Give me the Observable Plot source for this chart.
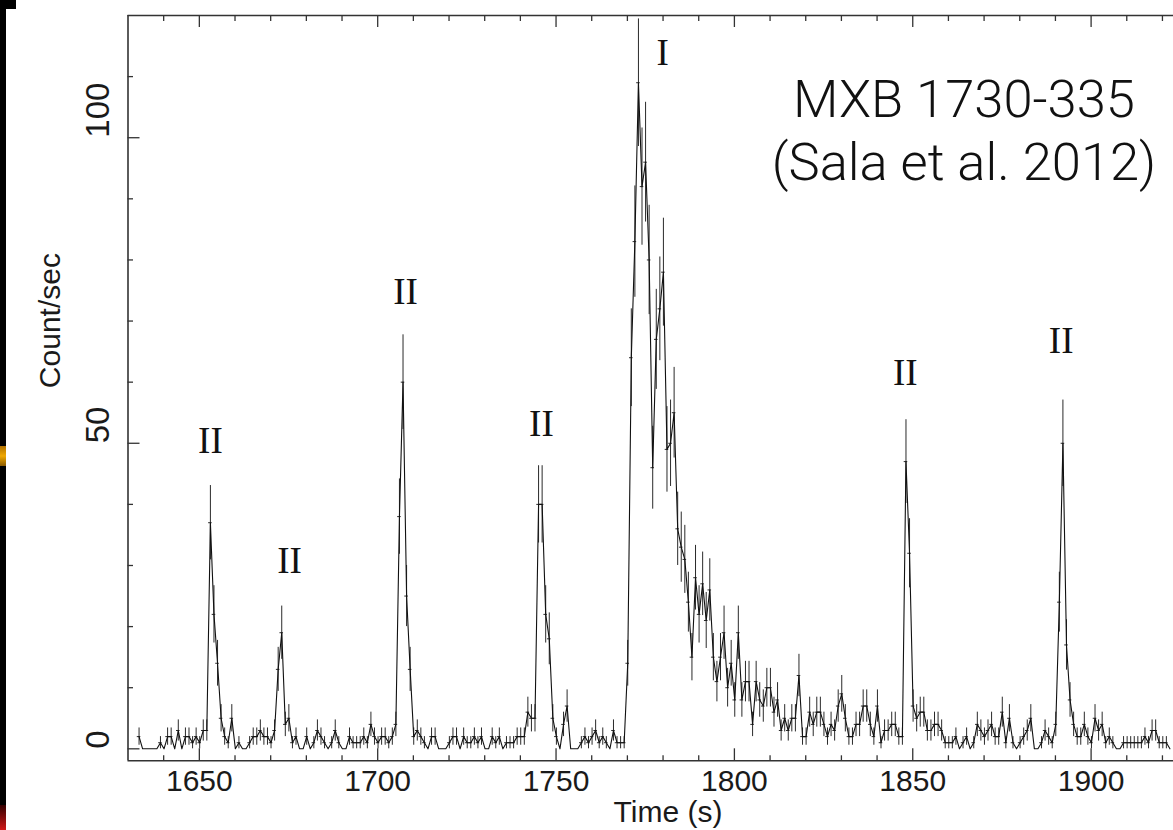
<!DOCTYPE html>
<html><head><meta charset="utf-8">
<script src="https://cdn.jsdelivr.net/npm/d3@7"></script>
<script src="https://cdn.jsdelivr.net/npm/@observablehq/plot@0.6"></script>
<style>
html,body{margin:0;padding:0;background:#fff;overflow:hidden}
#wrap{position:relative;width:1173px;height:830px}
.edge{position:absolute}
</style></head><body><div id="wrap"></div>
<script>
// ---- data (1-s bins, counts per second) ----
const startTime = 1633.1;   // centre of first bin (s)
const binWidth = 1;         // s
const counts = [
  2,0,0,0,0,0,1,0,2,2,
  0,3,0,2,2,1,2,1,3,3,
  37,22,14,5,2,1,5,0,1,0,
  0,1,2,2,3,2,2,1,3,13,
  19,4,5,1,2,0,0,2,0,1,
  3,2,1,0,1,3,1,0,0,2,
  1,1,1,2,1,4,2,1,2,2,
  1,2,4,38,60,25,13,2,3,2,
  1,0,2,2,0,0,0,1,2,2,
  0,2,1,1,2,1,2,0,0,2,
  1,2,0,1,1,1,2,2,2,6,
  5,5,40,40,22,18,5,2,0,4,
  7,0,0,0,1,2,1,2,3,1,
  2,1,0,3,1,1,1,14,64,83,
  109,92,96,80,46,67,72,78,49,50,
  55,36,33,31,24,15,28,22,27,21,
  26,15,11,15,19,10,14,8,19,8,
  11,11,4,11,8,7,10,10,6,8,
  3,5,3,5,5,12,2,2,6,4,
  6,6,4,2,4,3,7,9,5,2,
  2,4,4,7,7,4,2,7,1,3,
  3,4,4,2,2,47,32,7,5,6,
  6,3,3,4,4,3,1,1,1,2,
  0,1,2,0,1,4,3,2,3,4,
  2,2,6,1,5,1,0,1,2,3,
  5,0,0,1,3,2,1,4,24,50,
  17,8,4,2,2,4,2,1,5,3,
  4,1,2,1,0,0,1,1,1,1,
  1,1,2,1,3,3,1,1,1,0
];
const xDomain = [1630, 1923.1];
const yDomain = [-1.96, 120];
const majorX = [1650, 1700, 1750, 1800, 1850, 1900];
const minorX = [1640, 1660, 1670, 1680, 1690, 1710, 1720, 1730, 1740, 1760, 1770, 1780, 1790, 1810, 1820, 1830, 1840, 1860, 1870, 1880, 1890, 1910, 1920];
const majorY = [0, 50, 100];
const minorY = [10, 20, 30, 40, 60, 70, 80, 90, 110];
const burstLabels = ["II", "II", "II", "II", "I", "II", "II"];
const burstLabelTime = [1653.1, 1675.3, 1707.8, 1745.9, 1779.9, 1847.9, 1891.6];
const burstLabelRate = [50.3, 30.7, 74.7, 53.1, 113.9, 61.4, 66.7];
const titleLine1 = "MXB 1730-335";
const titleLine2 = "(Sala et al. 2012)";
const xLabel = "Time (s)";
const yLabel = "Count/sec";

const rows = counts.map((c, i) => ({t: startTime + i * binWidth, c, e: Math.sqrt(c)}));
const nz = rows.filter(d => d.c > 0);

const sans = "'Liberation Sans', Arial, Helvetica, sans-serif";
const serif = "'Liberation Serif', 'Times New Roman', serif";
const ink = "#1a1a1a";

const chart = Plot.plot({
  width: 1173, height: 830,
  marginLeft: 127.5, marginRight: 0, marginTop: 15, marginBottom: 69.7,
  style: {background: "transparent", overflow: "visible"},
  x: {domain: xDomain, axis: null},
  y: {domain: yDomain, axis: null},
  marks: [
    // error bars
    Plot.ruleX(nz, {x: "t", y1: d => d.c - d.e, y2: d => d.c + d.e, stroke: "#2a2a2a", strokeWidth: 1}),
    Plot.ruleY(nz, {y: "c", x1: d => d.t - binWidth / 2, x2: d => d.t + binWidth / 2, stroke: "#2a2a2a", strokeWidth: 1}),
    Plot.line(rows, {x: "t", y: "c", stroke: "#111", strokeWidth: 1.1}),
    // frame (right side outside the crop)
    Plot.ruleY([yDomain[0], yDomain[1]], {stroke: "#333", strokeWidth: 1.6}),
    Plot.ruleX([xDomain[0]], {stroke: "#333", strokeWidth: 1.6}),
    // inward ticks
    Plot.axisX(majorX, {anchor: "bottom", tickSize: -12, fill: "none", stroke: "#333", strokeWidth: 1.3}),
    Plot.axisX(minorX, {anchor: "bottom", tickSize: -5, fill: "none", stroke: "#333", strokeWidth: 1.3}),
    Plot.axisX(majorX, {anchor: "top", tickSize: -11, fill: "none", stroke: "#333", strokeWidth: 1.3}),
    Plot.axisX(minorX, {anchor: "top", tickSize: -5, fill: "none", stroke: "#333", strokeWidth: 1.3}),
    Plot.axisY(majorY, {anchor: "left", tickSize: -12, fill: "none", stroke: "#333", strokeWidth: 1.3}),
    Plot.axisY(minorY, {anchor: "left", tickSize: -5.5, fill: "none", stroke: "#333", strokeWidth: 1.3}),
    // tick labels
    Plot.text(majorX, {x: d => d, text: d => String(d), frameAnchor: "bottom", dy: 21, lineAnchor: "middle", fontSize: 30, fontFamily: sans, fill: ink}),
    Plot.text(majorY, {y: d => d, text: d => String(d), frameAnchor: "left", dx: -30, rotate: -90, lineAnchor: "middle", fontSize: 33, fontFamily: sans, fill: ink}),
    // axis labels
    Plot.text([yLabel], {frameAnchor: "left", dx: -77.5, rotate: -90, lineAnchor: "middle", fontSize: 30, fontFamily: sans, fill: ink}),
    Plot.text([xLabel], {frameAnchor: "bottom-left", dx: 540, dy: 52, textAnchor: "middle", lineAnchor: "middle", fontSize: 30, fontFamily: sans, fill: ink}),
    // burst type labels
    Plot.text(burstLabels, {x: (d, i) => burstLabelTime[i], y: (d, i) => burstLabelRate[i], text: d => d, lineAnchor: "middle", fontSize: 37, fontFamily: serif, fill: "#111"}),
    // title
    Plot.text([titleLine1], {frameAnchor: "top-right", dx: -209.5, dy: 101, textAnchor: "middle", lineAnchor: "bottom", fontSize: 52.5, fontWeight: 300, fontFamily: "Roboto, 'Liberation Sans', sans-serif", fill: "#111"}),
    Plot.text([titleLine2], {frameAnchor: "top-right", dx: -209.5, dy: 164, textAnchor: "middle", lineAnchor: "bottom", fontSize: 52.5, fontWeight: 300, fontFamily: "Roboto, 'Liberation Sans', sans-serif", fill: "#111"})
  ]
});

const wrap = document.getElementById("wrap");
wrap.appendChild(chart);
// slide edge remnants at the left border
const edges = [
  {l: 0, t: 0, w: 6, h: 830, bg: "#000"},
  {l: 0, t: 0, w: 16, h: 9, bg: "#000"},
  {l: 0, t: 446, w: 6, h: 20, bg: "linear-gradient(#b07000,#f0a800,#8a5a00)"},
  {l: 0, t: 805, w: 6, h: 25, bg: "linear-gradient(#300,#d01818)"}
];
for (const e of edges) {
  const d = document.createElement("div");
  d.className = "edge";
  Object.assign(d.style, {left: e.l + "px", top: e.t + "px", width: e.w + "px", height: e.h + "px", background: e.bg});
  wrap.appendChild(d);
}
chart.style.position = "absolute";
chart.style.left = "0";
chart.style.top = "0";
</script></body></html>
